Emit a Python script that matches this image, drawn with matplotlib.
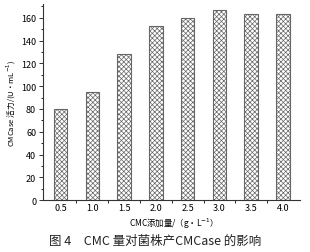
import matplotlib
matplotlib.use("Agg")
import matplotlib.pyplot as plt
from matplotlib.ticker import MultipleLocator

plt.rcParams['font.family'] = ['Noto Sans CJK SC', 'DejaVu Sans']
plt.rcParams['hatch.color'] = '#b8b8b8'
plt.rcParams['hatch.linewidth'] = 0.5

# data
doses = ['0.5', '1.0', '1.5', '2.0', '2.5', '3.0', '3.5', '4.0']
activity = [80, 95, 128, 153, 160, 167, 163, 163]

fig = plt.figure(figsize=(3.10, 2.53), dpi=100)
ax = fig.add_axes([0.139, 0.205, 0.83, 0.775])

x = list(range(len(doses)))
ax.bar(x, activity, width=0.42, color='white', edgecolor='#666666',
       linewidth=0.8, hatch='xxxxxxx')

ax.set_xlim(-0.55, len(doses) - 0.45)
ax.set_ylim(0, 172)
ax.set_xticks(x)
ax.set_xticklabels(doses)
ax.set_xticks([i + 0.5 for i in x[:-1]], minor=True)
ax.yaxis.set_major_locator(MultipleLocator(20))
ax.yaxis.set_minor_locator(MultipleLocator(10))
ax.tick_params(axis='both', labelsize=6.5, length=3, width=0.7, color='#333333', pad=2)
ax.tick_params(axis='both', which='minor', length=1.8, width=0.6)
ax.tick_params(axis='x', which='major', length=0)

for s in ['top', 'right']:
    ax.spines[s].set_visible(False)
for s in ['left', 'bottom']:
    ax.spines[s].set_linewidth(0.8)
    ax.spines[s].set_color('#333333')

ax.set_ylabel('CMCase 活力/(U·mL$^{-1}$)', fontsize=5.5, labelpad=2)
ax.set_xlabel('CMC添加量/（g·L$^{-1}$）', fontsize=6, labelpad=3)

fig.text(0.5, 0.02, '图 4　CMC 量对菌株产CMCase 的影响', ha='center',
         va='bottom', fontsize=9, color='#222222')

fig.savefig('out.png', dpi=100)
